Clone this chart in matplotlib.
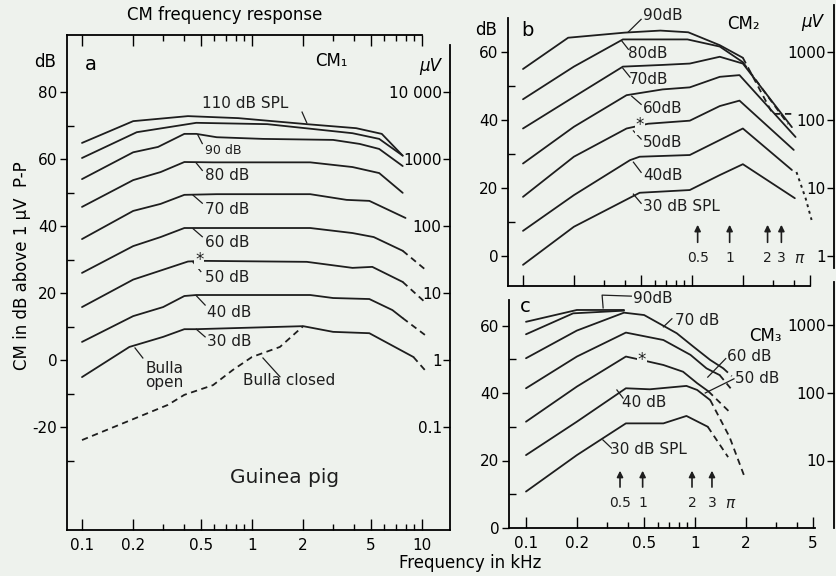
import numpy as np
import matplotlib
matplotlib.use('Agg')
import matplotlib.pyplot as plt
from matplotlib.ticker import NullFormatter, NullLocator

INK = '#1e1e1e'
PAPER = '#eef2ed'
W, H = 837, 576

# ---- panel a: CM1 (dB re 1 uV p-p) ----
a_110_f = [0.1, 0.2, 0.42, 0.83, 2.1, 4.1, 5.8, 7.7]
a_110_db = [64.8, 71.3, 72.8, 72.2, 70.4, 69.2, 67.5, 61.0]
a_100_f = [0.1, 0.21, 0.47, 1.23, 3.9, 5.6, 7.7]
a_100_db = [60.3, 68.0, 70.8, 70.4, 67.7, 66.0, 61.0]
a_90_f = [0.1, 0.2, 0.28, 0.4, 0.47, 0.62, 1.16, 3.0, 4.3, 5.6, 7.7]
a_90_db = [54.0, 62.0, 63.6, 67.5, 67.5, 66.5, 66.0, 65.7, 64.5, 63.0, 57.9]
a_80_f = [0.1, 0.2, 0.29, 0.4, 0.59, 2.2, 3.9, 5.6, 7.7]
a_80_db = [45.7, 53.7, 56.1, 59.1, 59.0, 59.0, 57.6, 55.8, 49.9]
a_70_f = [0.1, 0.2, 0.29, 0.4, 0.62, 2.2, 3.6, 4.9, 8.0]
a_70_db = [36.1, 44.5, 46.6, 49.3, 49.5, 49.5, 47.8, 47.5, 42.4]
a_60_f = [0.1, 0.2, 0.29, 0.4, 0.62, 2.2, 3.9, 5.2, 7.7]
a_60_db = [26.0, 34.0, 36.7, 39.4, 39.4, 39.4, 37.9, 36.7, 32.6]
a_60_tail_f = [7.7, 10.4]
a_60_tail_db = [32.6, 27.1]
a_50_f = [0.1, 0.2, 0.29, 0.42, 0.5, 2.1, 3.9, 5.1, 7.7]
a_50_db = [15.8, 24.0, 26.7, 29.4, 29.6, 29.3, 27.5, 27.8, 23.3]
a_50_tail_f = [7.7, 10.4]
a_50_tail_db = [23.3, 17.3]
a_40_f = [0.1, 0.2, 0.3, 0.4, 0.47, 2.2, 3.0, 4.9, 6.7, 7.7]
a_40_db = [5.4, 13.1, 15.8, 19.1, 19.4, 19.4, 18.5, 18.2, 14.9, 12.5]
a_40_tail_f = [7.7, 10.4]
a_40_tail_db = [12.5, 7.5]
a_30_f = [0.1, 0.19, 0.3, 0.4, 0.47, 2.0, 3.0, 4.9, 8.9]
a_30_db = [-5.1, 3.9, 6.9, 9.2, 9.2, 10.1, 8.4, 8.0, 0.9]
a_30_tail_f = [8.9, 10.4]
a_30_tail_db = [0.9, -3.0]
a_closed_f = [0.1, 0.32, 0.4, 0.59, 0.77, 1.0, 1.46, 2.0]
a_closed_db = [-23.9, -13.4, -10.4, -7.5, -3.0, 0.9, 3.9, 10.1]

# ---- panel b: CM2 ----
b_90_f = [0.1, 0.185, 0.4, 0.65, 0.95, 1.46, 2.0]
b_90_db = [55.0, 64.2, 65.7, 66.3, 65.8, 62.0, 58.3]
b_90_tail_f = [2.0, 3.0, 3.9]
b_90_tail_db = [58.3, 41.8, 41.8]
b_80_f = [0.1, 0.2, 0.39, 0.94, 1.46, 2.0]
b_80_db = [46.1, 55.7, 63.7, 63.7, 61.6, 57.0]
b_80_tail_f = [2.0, 3.7]
b_80_tail_db = [57.0, 38.8]
b_70_f = [0.1, 0.2, 0.39, 0.67, 0.97, 1.46, 2.0, 3.9]
b_70_db = [37.5, 46.8, 55.7, 56.2, 56.6, 58.6, 56.6, 37.9]
b_60_f = [0.1, 0.2, 0.41, 0.67, 0.97, 1.46, 1.91, 4.1]
b_60_db = [27.2, 38.0, 47.3, 49.0, 49.6, 52.7, 53.2, 35.0]
b_50_f = [0.1, 0.2, 0.41, 0.55, 0.97, 1.46, 1.91, 4.0]
b_50_db = [17.4, 29.2, 37.5, 38.9, 39.8, 44.1, 45.7, 31.2]
b_40_f = [0.1, 0.2, 0.43, 0.49, 0.97, 1.46, 2.0, 3.9]
b_40_db = [7.4, 17.9, 28.2, 29.2, 29.7, 34.1, 37.5, 25.3]
b_40_tail_f = [4.15, 4.7, 5.1]
b_40_tail_db = [24.7, 17.0, 10.6]
b_30_f = [0.1, 0.2, 0.49, 0.97, 1.46, 2.0, 4.06]
b_30_db = [-2.6, 8.6, 18.6, 19.4, 23.8, 27.0, 17.0]

# ---- panel c: CM3 ----
c_90_f = [0.1, 0.2, 0.38]
c_90_db = [61.1, 64.6, 64.6]
c_80_f = [0.1, 0.19, 0.38]
c_80_db = [57.4, 63.6, 64.4]
c_70_f = [0.1, 0.2, 0.38, 0.5, 0.78, 0.98, 1.23, 1.47]
c_70_db = [50.3, 58.5, 63.8, 63.1, 57.7, 53.7, 49.8, 47.3]
c_70_tail_f = [1.47, 1.65]
c_70_tail_db = [47.3, 45.0]
c_60_f = [0.1, 0.2, 0.39, 0.65, 0.94, 1.17, 1.4]
c_60_db = [41.4, 50.8, 57.9, 55.7, 51.3, 47.3, 45.3]
c_60_tail_f = [1.4, 1.68]
c_60_tail_db = [45.3, 40.5]
c_50_f = [0.1, 0.2, 0.39, 0.48, 0.65, 0.85, 1.03, 1.2]
c_50_db = [31.5, 41.9, 50.8, 49.8, 48.3, 46.3, 42.9, 40.5]
c_50_tail_f = [1.2, 1.6]
c_50_tail_db = [40.5, 34.4]
c_40_f = [0.1, 0.2, 0.39, 0.54, 0.89, 1.03, 1.23]
c_40_db = [21.6, 31.5, 41.4, 41.1, 42.1, 40.9, 37.9]
c_40_tail_f = [1.23, 1.6, 1.97]
c_40_tail_db = [37.9, 27.0, 15.0]
c_30_f = [0.1, 0.2, 0.39, 0.65, 0.89, 1.19]
c_30_db = [10.8, 21.6, 31.0, 31.0, 33.2, 30.0]
c_30_tail_f = [1.19, 1.57]
c_30_tail_db = [30.0, 21.0]

# arrows under curves (b and c)
b_arrow_f = [1.08, 1.67, 2.8, 3.38]
c_arrow_f = [0.36, 0.49, 0.96, 1.26]
arrow_labels = ['0.5', '1', '2', '3']

freq_major = [0.1, 0.2, 0.5, 1, 2, 5, 10]
freq_major_lbl = ['0.1', '0.2', '0.5', '1', '2', '5', '10']
freq_minor = [0.3, 0.4, 0.6, 0.7, 0.8, 0.9, 3, 4, 6, 7, 8, 9]


def rect(l, t, r, b):
    return [l / W, 1 - b / H, (r - l) / W, (b - t) / H]


def ftext(x, y, s, **kw):
    fig.text(x / W, 1 - y / H, s, ha=kw.pop('ha', 'center'), va=kw.pop('va', 'center'), **kw)


def style(ax, xlim, ylim, xmaj, xlbl, ymaj, ymin):
    ax.set_xscale('log')
    ax.set_xlim(xlim)
    ax.set_ylim(ylim)
    ax.set_xticks(xmaj, xlbl)
    ax.set_xticks([t for t in freq_minor if t < xmaj[-1]], minor=True)
    ax.xaxis.set_minor_formatter(NullFormatter())
    ax.set_yticks(ymaj)
    ax.set_yticks(ymin, minor=True)
    ax.tick_params(axis='x', which='major', direction='in', length=8, width=1.0, pad=6, labelsize=11)
    ax.tick_params(axis='x', which='minor', direction='in', length=4, width=1.0)
    ax.tick_params(axis='y', which='major', direction='out', length=5, width=1.0, pad=2, labelsize=11)
    ax.tick_params(axis='y', which='minor', direction='in', length=5, width=1.0)
    ax.patch.set_visible(False)
    for s in ax.spines.values():
        s.set_linewidth(1.3)


def uv_axis(x, top, bottom, y0, k, ticks, labels):
    # separate thin axis: its left spine carries the uV scale
    ax = fig.add_axes(rect(x, top, x + 1, bottom))
    ax.set_yscale('log')
    db_bot = (y0 - bottom) * k
    db_top = (y0 - top) * k
    ax.set_ylim(10 ** (db_bot / 20), 10 ** (db_top / 20))
    ax.set_yticks(ticks, labels)
    ax.yaxis.set_minor_locator(NullLocator())
    ax.xaxis.set_visible(False)
    for s in ['top', 'right', 'bottom']:
        ax.spines[s].set_visible(False)
    ax.spines['left'].set_linewidth(1.3)
    ax.tick_params(axis='y', direction='out', length=5, width=1.0, pad=1, labelsize=11)
    ax.patch.set_visible(False)
    return ax


def curve(ax, f, db, dashed=False):
    ax.plot(f, db, color=INK, lw=1.3, ls=(0, (3.5, 2.5)) if dashed else '-',
            solid_capstyle='round', clip_on=False)


def label(ax, f, db, s, lead=None, size=11, ha='left'):
    ax.text(f, db, s, ha=ha, va='center', fontsize=size, color=INK)
    if lead is not None:
        ax.plot([lead[0], lead[2]], [lead[1], lead[3]], color=INK, lw=0.9, clip_on=False)


def star(ax, f, db):
    ax.text(f, db, '*', ha='center', va='center', fontsize=12, color=INK,
            bbox=dict(fc=PAPER, ec='none', pad=0.6))


def arrows(ax, xs, tip, base, lab_y, pi_x):
    for xv, lbl in zip(xs, arrow_labels):
        ax.annotate('', xy=(xv, tip), xytext=(xv, base),
                    arrowprops=dict(arrowstyle='-|>', color=INK, lw=1.2, mutation_scale=9))
        ax.text(xv, lab_y, lbl, ha='center', va='center', fontsize=10, color=INK)
    ax.text(pi_x, lab_y, 'π', ha='center', va='center', fontsize=11, color=INK, style='italic')


fig = plt.figure(figsize=(W / 100, H / 100), dpi=100, facecolor=PAPER)
plt.rcParams['font.family'] = ['DejaVu Sans']

# ===== panel a =====
ka = 20 / 67
axa = fig.add_axes(rect(67, 35, 450, 530))
xlim_a = (0.1 * 10 ** (-15 / 170), 0.1 * 10 ** (368 / 170))
style(axa, xlim_a, ((360 - 530) * ka, (360 - 35) * ka), freq_major, freq_major_lbl,
      [-20, 0, 20, 40, 60, 80], [-30, -10, 10, 30, 50, 70])
axa.set_yticklabels(['-20', '0', '20', '40', '60', '80'])
axa.tick_params(axis='x', which='both', top=True)
axa.spines['right'].set_visible(False)
axa.spines['top'].set_bounds(xlim_a[0], 10)

for f, d in [(a_110_f, a_110_db), (a_100_f, a_100_db), (a_90_f, a_90_db), (a_80_f, a_80_db),
             (a_70_f, a_70_db), (a_60_f, a_60_db), (a_50_f, a_50_db), (a_40_f, a_40_db),
             (a_30_f, a_30_db)]:
    curve(axa, f, d)
for f, d in [(a_60_tail_f, a_60_tail_db), (a_50_tail_f, a_50_tail_db), (a_40_tail_f, a_40_tail_db),
             (a_30_tail_f, a_30_tail_db), (a_closed_f, a_closed_db)]:
    curve(axa, f, d, dashed=True)

label(axa, 0.505, 76.7, '110 dB SPL', (1.97, 74.0, 2.1, 70.8))
label(axa, 0.53, 62.6, '90 dB', (0.48, 67.2, 0.51, 64.6), size=9)
label(axa, 0.53, 55.2, '80 dB', (0.47, 58.8, 0.51, 56.6))
label(axa, 0.53, 44.8, '70 dB', (0.45, 49.2, 0.51, 46.8))
label(axa, 0.53, 35.2, '60 dB', (0.45, 39.2, 0.51, 36.8))
label(axa, 0.53, 24.5, '50 dB', (0.45, 29.2, 0.5, 26.4))
label(axa, 0.54, 14.3, '40 dB', (0.47, 19.2, 0.53, 16.4))
label(axa, 0.54, 5.4, '30 dB', (0.47, 9.2, 0.53, 6.9))
axa.text(0.236, -4.6, 'Bulla\nopen', ha='left', va='center', fontsize=11, color=INK, linespacing=0.85)
axa.plot([0.205, 0.228], [3.6, 0.6], color=INK, lw=0.9)
label(axa, 0.88, -6.0, 'Bulla closed', (1.16, 0.6, 1.46, -5.0))
axa.text(1.56, -35.2, 'Guinea pig', ha='center', va='center', fontsize=14.5, color=INK)
star(axa, 0.49, 30.0)

uv_axis(450, 45, 530, 360, ka, [0.1, 1, 10, 100, 1000, 10000],
        ['0.1', '1', '10', '100', '1000', '10 000'])

ftext(225, 15, 'CM frequency response', fontsize=12)
ftext(45, 62, 'dB', fontsize=12)
ftext(91, 64, 'a', fontsize=14)
ftext(331, 61, 'CM₁', fontsize=12)
ftext(430, 66, 'µV', fontsize=12, style='italic')
ftext(22, 266, 'CM in dB above 1 µV  P-P', fontsize=12, rotation=90)
ftext(470, 563, 'Frequency in kHz', fontsize=12)

# ===== panel b =====
kb = 20 / 68
axb = fig.add_axes(rect(508, 18, 834, 286))
xlim_b = (0.1 * 10 ** (-15 / 169), 0.1 * 10 ** (311 / 169))
style(axb, xlim_b, ((256 - 286) * kb, (256 - 18) * kb), freq_major[:-1], [''] * 6,
      [0, 20, 40, 60], [10, 30, 50])
axb.spines['top'].set_visible(False)
axb.spines['right'].set_visible(False)
axb.spines['bottom'].set_bounds(xlim_b[0], 5)

for f, d in [(b_90_f, b_90_db), (b_80_f, b_80_db), (b_70_f, b_70_db), (b_60_f, b_60_db),
             (b_50_f, b_50_db), (b_40_f, b_40_db), (b_30_f, b_30_db)]:
    curve(axb, f, d)
for f, d in [(b_90_tail_f, b_90_tail_db), (b_80_tail_f, b_80_tail_db)]:
    curve(axb, f, d, dashed=True)
axb.plot(b_40_tail_f, b_40_tail_db, color=INK, lw=1.4, ls=(0, (1.5, 2)))

label(axb, 0.515, 70.6, '90dB', (0.42, 65.9, 0.5, 69.6))
label(axb, 0.42, 59.7, '80dB', (0.385, 63.2, 0.42, 60.8))
label(axb, 0.42, 51.8, '70dB', (0.39, 55.2, 0.43, 52.6))
label(axb, 0.515, 43.5, '60dB', (0.44, 47.0, 0.5, 44.6))
label(axb, 0.515, 33.5, '50dB', (0.45, 36.8, 0.5, 34.4))
label(axb, 0.515, 23.8, '40dB', (0.45, 27.6, 0.5, 24.6))
label(axb, 0.515, 14.7, '30 dB SPL', (0.45, 18.2, 0.5, 15.5))
star(axb, 0.49, 38.6)
arrows(axb, b_arrow_f, 10.0, 3.2, -0.6, 4.3)

uv_axis(834, 5, 268, 256, kb, [1, 10, 100, 1000], ['1', '10', '100', '1000'])
ftext(486, 30, 'dB', fontsize=12)
ftext(527, 31, 'b', fontsize=14)
ftext(743, 24, 'CM₂', fontsize=12)
ftext(812, 22, 'µV', fontsize=12, style='italic')

# ===== panel c =====
kc = 20 / 67.5
axc = fig.add_axes(rect(509, 300, 834, 528))
xlim_c = (0.1 * 10 ** (-17 / 169), 0.1 * 10 ** (308 / 169))
style(axc, xlim_c, (0, (528 - 300) * kc), freq_major[:-1], freq_major_lbl[:-1],
      [0, 20, 40, 60], [10, 30, 50])
axc.spines['top'].set_visible(False)
axc.spines['right'].set_visible(False)
axc.spines['bottom'].set_bounds(xlim_c[0], 5.1)

for f, d in [(c_90_f, c_90_db), (c_80_f, c_80_db), (c_70_f, c_70_db), (c_60_f, c_60_db),
             (c_50_f, c_50_db), (c_40_f, c_40_db), (c_30_f, c_30_db)]:
    curve(axc, f, d)
for f, d in [(c_70_tail_f, c_70_tail_db), (c_60_tail_f, c_60_tail_db), (c_50_tail_f, c_50_tail_db),
             (c_40_tail_f, c_40_tail_db), (c_30_tail_f, c_30_tail_db)]:
    curve(axc, f, d, dashed=True)

axc.plot([0.286, 0.282, 0.42], [65.2, 69.0, 68.7], color=INK, lw=0.9, clip_on=False)
label(axc, 0.43, 68.0, '90dB')
label(axc, 0.76, 61.6, '70 dB', (0.65, 59.6, 0.73, 62.0))
label(axc, 1.54, 50.7, '60 dB', (1.19, 44.7, 1.52, 50.2))
label(axc, 1.72, 44.4, '50 dB', (1.15, 40.0, 1.7, 44.2))
label(axc, 0.37, 37.3, '40 dB', (0.345, 40.9, 0.375, 38.5))
label(axc, 0.314, 23.4, '30 dB SPL', (0.285, 26.1, 0.32, 23.7))
star(axc, 0.485, 49.8)
arrows(axc, c_arrow_f, 17.8, 11.3, 7.4, 1.61)

uv_axis(834, 282, 528, 528, kc, [10, 100, 1000], ['10', '100', '1000'])
ftext(525, 307, 'c', fontsize=14)
ftext(765, 336, 'CM₃', fontsize=12)

fig.savefig('out.png', dpi=100, facecolor=PAPER)
